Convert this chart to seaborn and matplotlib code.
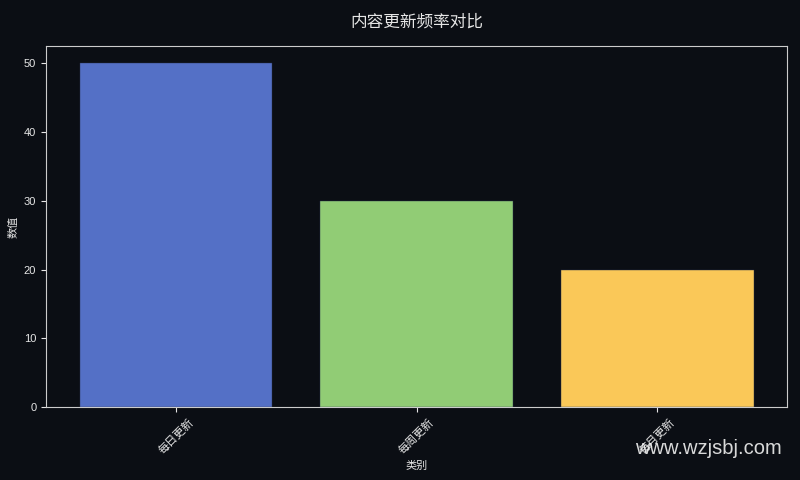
import matplotlib
matplotlib.use('Agg')
import matplotlib.pyplot as plt
import seaborn as sns
import pandas as pd

# Data
categories = ['每日更新', '每周更新', '每月更新']
values = [50, 30, 20]
bar_colors = ['#5470c6', '#91cc75', '#fac858']

bg = '#0b0e14'
fg = '#e6e6e6'

sns.set_style('dark')
plt.rcParams['font.family'] = ['Liberation Sans', 'Noto Sans CJK SC', 'DejaVu Sans']
plt.rcParams['axes.unicode_minus'] = False

df = pd.DataFrame({'类别': categories, '数值': values})

fig, ax = plt.subplots(figsize=(8, 4.8), dpi=100)
fig.patch.set_facecolor(bg)
ax.set_facecolor(bg)

sns.barplot(data=df, x='类别', y='数值', hue='类别', palette=bar_colors,
            width=0.8, legend=False, ax=ax, saturation=1)
for p in ax.patches:
    p.set_edgecolor('#2a3350')
    p.set_linewidth(0.3)
ax.set_xlim(-0.54, 2.54)

ax.set_title('内容更新频率对比', color=fg, fontsize=12, pad=14)
ax.set_xlabel('类别', color=fg, fontsize=8)
ax.set_ylabel('数值', color=fg, fontsize=8)
ax.tick_params(axis='both', colors=fg, labelsize=8, length=3.5, width=0.8, bottom=True, left=True)
plt.setp(ax.get_xticklabels(), rotation=45, ha='center')
ax.grid(False)
for s in ax.spines.values():
    s.set_color('#cccccc')
    s.set_linewidth(0.8)
    s.set_visible(True)

fig.subplots_adjust(left=0.0575, right=0.984, top=0.904, bottom=0.152)

fig.text(0.977, 0.065, 'www.wzjsbj.com', color='#f0f0f0', fontsize=14.5,
         family=['Liberation Sans'], ha='right', va='center', alpha=0.9)

fig.savefig('out.png', dpi=100, facecolor=bg)
